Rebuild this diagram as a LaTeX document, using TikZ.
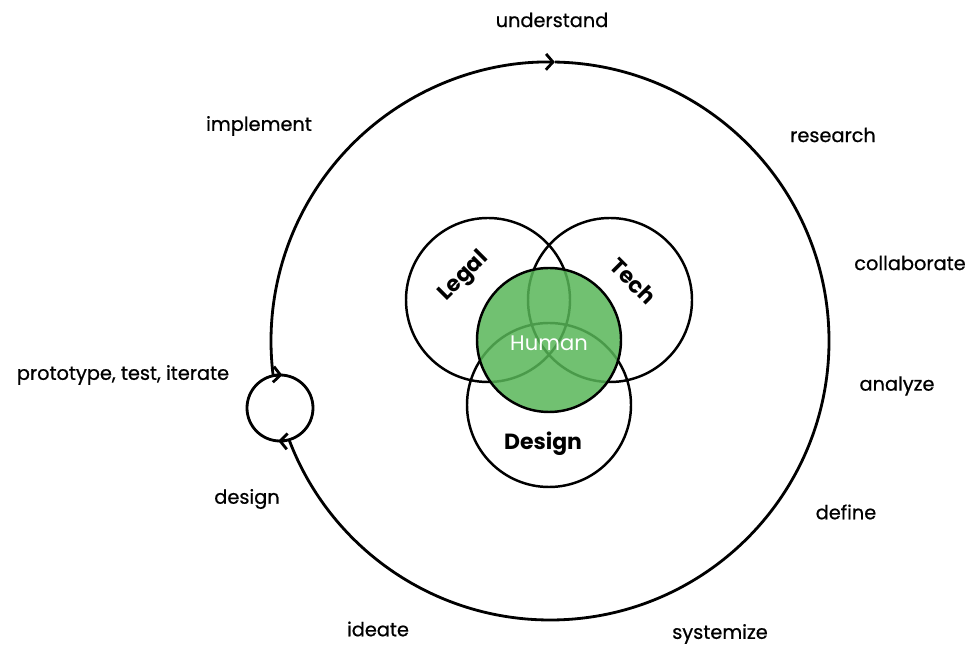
\documentclass[tikz,border=0pt]{standalone}
\usepackage{fontspec}
\setmainfont{Poppins}
\newfontfamily\phasefont{Poppins}[FakeBold=0.7]
\usetikzlibrary{arrows.meta}

\definecolor{humangreen}{RGB}{88,182,88}

\begin{document}
\begin{tikzpicture}[x=0.02cm,y=0.02cm]
\tikzstyle{every node}+=[inner sep=0pt]
\tikzset{
  cycle line/.style={black, line width=1.6pt},
  flow/.style={-{Straight Barb[length=4pt,width=9pt]}},
  venn/.style={black, line width=1.4pt},
  phase/.style={font=\phasefont\fontsize{11}{13}\selectfont},
  venn label/.style={font=\fontsize{12.5}{15}\selectfont\bfseries}
}
\useasboundingbox (0,0) rectangle (970,645);
% centres
\coordinate (hub) at (550,304);
\coordinate (loop) at (280,237);
\coordinate (legal) at (488,345);
\coordinate (tech) at (610,345);
\coordinate (design) at (549,240);
\coordinate (human) at (549,305);

% outer cycle, open where the small loop sits
\draw [cycle line, flow] ([shift={(187.13:279)}]hub) arc (187.13:89:279);
\draw [cycle line] ([shift={(89:279)}]hub) arc (89:-159.25:279);

% small loop
\draw [cycle line] (loop) circle (33);
\draw [cycle line, flow] ([shift={(100:33)}]loop) arc (100:86:33);
\draw [cycle line, flow] ([shift={(-78:33)}]loop) arc (-78:-93:33);

% venn
\draw [venn] (legal) circle (82);
\draw [venn] (tech) circle (82);
\draw [venn] (design) circle (82);
\draw [venn, fill=humangreen, fill opacity=0.85] (human) circle (72);

\node [venn label, rotate=45] (legal text) at (464,368) {Legal};
\node [venn label, rotate=-45] (tech text) at (633,364) {Tech};
\node [venn label] (design text) at (543,201) {Design};
\node [font=\fontsize{12}{14}\selectfont, text=white] (human text) at (549,302) {Human};

% phases round the cycle
\node [phase] (understand) at (552,625) {understand};
\node [phase] (research) at (833,510) {research};
\node [phase] (collaborate) at (910,382) {collaborate};
\node [phase] (analyze) at (897,259) {analyze};
\node [phase] (define) at (846,133) {define};
\node [phase] (systemize) at (720,11) {systemize};
\node [phase] (ideate) at (378,16) {ideate};
\node [phase] (design step) at (247,146) {design};
\node [phase] (prototype) at (123,270) {prototype, test, iterate};
\node [phase] (implement) at (259,519) {implement};
\end{tikzpicture}
\end{document}
